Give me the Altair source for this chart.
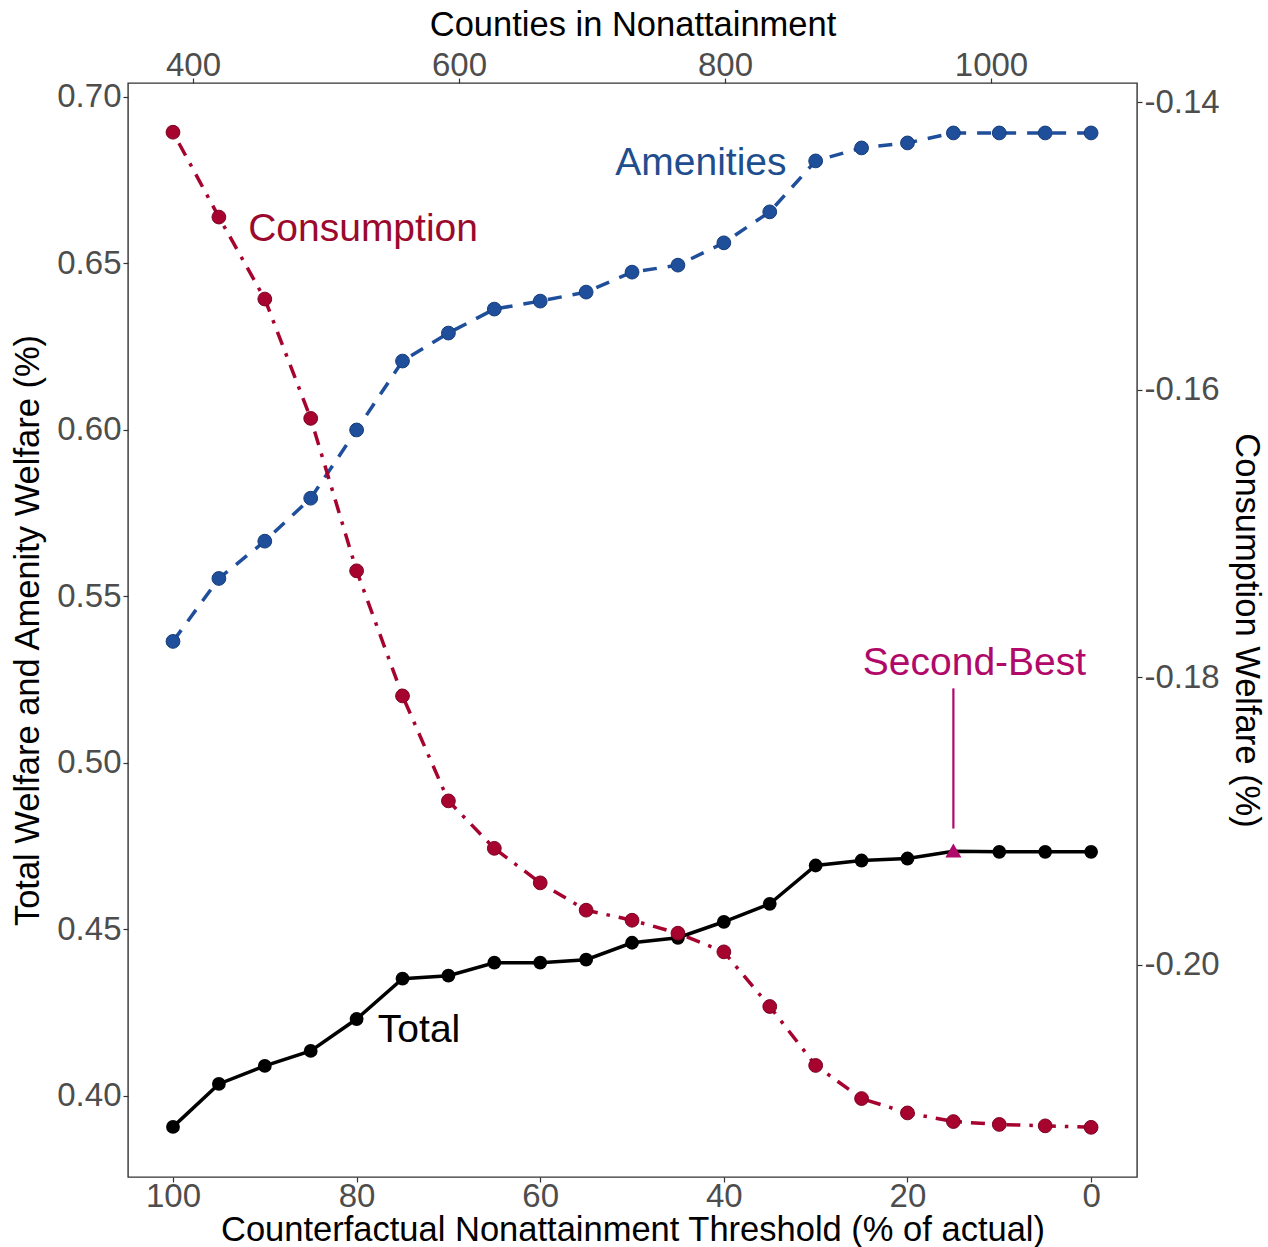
import altair as alt
import pandas as pd

# ---------------- data ----------------
threshold = [100, 95, 90, 85, 80, 75, 70, 65, 60, 55, 50, 45, 40, 35, 30, 25, 20, 15, 10, 5, 0]
total = [0.3907, 0.4036, 0.4090, 0.4135, 0.4231, 0.4352, 0.4361, 0.4400, 0.4400, 0.4409, 0.4460,
         0.4475, 0.4523, 0.4577, 0.4692, 0.4707, 0.4713, 0.4735, 0.4733, 0.4733, 0.4733]
amenities = [0.5365, 0.5554, 0.5666, 0.5795, 0.6000, 0.6207, 0.6291, 0.6363, 0.6387, 0.6414, 0.6474,
             0.6495, 0.6562, 0.6655, 0.6808, 0.6847, 0.6862, 0.6892, 0.6892, 0.6892, 0.6892]
consumption = [-0.1421, -0.1480, -0.1537, -0.1620, -0.1726, -0.1813, -0.1886, -0.1919, -0.1943, -0.1962,
               -0.1969, -0.1978, -0.1991, -0.2029, -0.2070, -0.2093, -0.2103, -0.2109, -0.2111, -0.2112, -0.2113]

bottom_ticks = [100, 80, 60, 40, 20, 0]
left_ticks = [0.40, 0.45, 0.50, 0.55, 0.60, 0.65, 0.70]
right_ticks = [-0.20, -0.18, -0.16, -0.14]
top_ticks = [400, 600, 800, 1000]

second_best_x = [15]
second_best_y = [0.4737]
seg_x = [15]
seg_y_top = [0.5224]
seg_y_bottom = [0.4803]

label_text = ["Amenities", "Consumption", "Total", "Second-Best"]
label_x = [42.5, 79.3, 73.2, 12.7]
label_y = [0.6802, 0.6604, 0.4198, 0.5299]
label_color = ["#1F4E8F", "#9B0A2E", "#000000", "#B0096A"]

# ---------------- styles ----------------
BLUE = "#1F4E9B"
RED = "#A6032F"
MAGENTA = "#B0096A"
FONT = "Liberation Sans"

df = pd.DataFrame({"threshold": threshold, "total": total,
                   "amenities": amenities, "consumption": consumption})

x_scale = alt.Scale(domain=[-5.0, 104.9], reverse=True, nice=False, zero=False)
yl_scale = alt.Scale(domain=[0.37565, 0.7042], nice=False, zero=False)
yr_scale = alt.Scale(domain=[-0.214756, -0.138677], nice=False, zero=False)
top_scale = alt.Scale(domain=[351.1, 1109.8], nice=False, zero=False)

x_axis = alt.Axis(values=bottom_ticks, title="Counterfactual Nonattainment Threshold (% of actual)",
                  format="d", grid=False, domain=False, labelPadding=-2, titlePadding=0)
yl_axis = alt.Axis(values=left_ticks, title="Total Welfare and Amenity Welfare (%)",
                   format=".2f", grid=False, domain=False, titlePadding=11)
yr_axis = alt.Axis(values=right_ticks, title="Consumption Welfare (%)", orient="right",
                   labelExpr="replace(format(datum.value, '.2f'), '\u2212', '-')",
                   grid=False, domain=False, titlePadding=9)
top_axis = alt.Axis(values=top_ticks, title="Counties in Nonattainment", orient="top",
                    format="d", grid=False, domain=False, labelPadding=-4, titlePadding=7)

base = alt.Chart(df)

PT = 190

# Amenities (left axis), carries bottom and left axes
blue_line = base.mark_line(color=BLUE, strokeWidth=3.5, strokeDash=[14, 11]).encode(
    x=alt.X("threshold:Q", scale=x_scale, axis=x_axis),
    y=alt.Y("amenities:Q", scale=yl_scale, axis=yl_axis),
)
blue_pts = base.mark_circle(size=PT, color=BLUE, opacity=1, stroke="#163d7a", strokeWidth=1).encode(
    x=alt.X("threshold:Q", scale=x_scale, axis=None),
    y=alt.Y("amenities:Q", scale=yl_scale, axis=None),
)

# Total
black_line = base.mark_line(color="black", strokeWidth=3.5).encode(
    x=alt.X("threshold:Q", scale=x_scale, axis=None),
    y=alt.Y("total:Q", scale=yl_scale, axis=None),
)
black_pts = base.transform_filter(alt.datum.threshold != 15).mark_circle(
    size=PT, color="black", opacity=1).encode(
    x=alt.X("threshold:Q", scale=x_scale, axis=None),
    y=alt.Y("total:Q", scale=yl_scale, axis=None),
)

# Consumption (right axis)
red_line = base.mark_line(color=RED, strokeWidth=3.5, strokeDash=[3.5, 9, 14, 9]).encode(
    x=alt.X("threshold:Q", scale=x_scale, axis=None),
    y=alt.Y("consumption:Q", scale=yr_scale, axis=yr_axis),
)
red_pts = base.mark_circle(size=PT, color=RED, opacity=1, stroke="#7d0222", strokeWidth=1).encode(
    x=alt.X("threshold:Q", scale=x_scale, axis=None),
    y=alt.Y("consumption:Q", scale=yr_scale, axis=None),
)

# Second-best marker and pointer
sb_df = pd.DataFrame({"x": second_best_x, "y": second_best_y})
sb_pt = alt.Chart(sb_df).mark_point(shape="triangle-up", filled=True, size=260, color=MAGENTA,
                                    opacity=1).encode(
    x=alt.X("x:Q", scale=x_scale, axis=None),
    y=alt.Y("y:Q", scale=yl_scale, axis=None),
)
seg_df = pd.DataFrame({"x": seg_x, "y": seg_y_top, "y2": seg_y_bottom})
seg = alt.Chart(seg_df).mark_rule(color=MAGENTA, strokeWidth=2.2).encode(
    x=alt.X("x:Q", scale=x_scale, axis=None),
    y=alt.Y("y:Q", scale=yl_scale, axis=None),
    y2="y2:Q",
)

# Text labels
lab_df = pd.DataFrame({"text": label_text, "x": label_x, "y": label_y, "color": label_color})
labels = alt.Chart(lab_df).mark_text(font=FONT, fontSize=39, align="center", baseline="middle").encode(
    x=alt.X("x:Q", scale=x_scale, axis=None),
    y=alt.Y("y:Q", scale=yl_scale, axis=None),
    text="text:N",
    color=alt.Color("color:N", scale=None),
)

# Top (secondary) axis
top_df = pd.DataFrame({"counties": top_ticks})
top_layer = alt.Chart(top_df).mark_point(opacity=0).encode(
    x=alt.X("counties:Q", scale=top_scale, axis=top_axis),
)

chart = alt.layer(
    blue_line, top_layer, red_line, black_line, blue_pts, black_pts, red_pts, seg, sb_pt, labels
).resolve_scale(
    x="independent", y="independent"
).properties(
    width=1009, height=1094,
    background="white",
    autosize=alt.AutoSizeParams(type="none"),
    padding={"left": 128, "top": 83, "right": 131, "bottom": 70},
).configure_view(
    stroke="#333333", strokeWidth=1.4
).configure_axis(
    labelFont=FONT, titleFont=FONT,
    labelFontSize=33, titleFontSize=34.5,
    labelColor="#4D4D4D", titleColor="#000000",
    titleFontWeight="normal",
    tickColor="#333333", tickSize=5, tickWidth=1.2,
    labelPadding=2,
)

chart.save("out.html", embed_options={"renderer": "svg", "actions": False})
